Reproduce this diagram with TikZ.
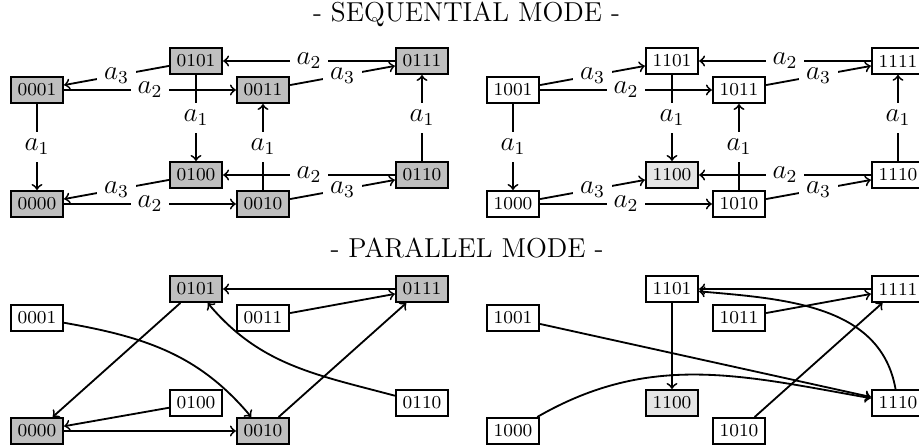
\documentclass[tikz,border=0pt]{standalone}
\begin{document}
\begin{tikzpicture}[x=0.4386pt,y=0.4386pt,>=to,line width=0.8pt,
  st/.style={draw,font=\footnotesize,inner sep=3pt,fill=white},
  g/.style={st,fill=gray!50},
  lg/.style={st,fill=gray!20},
  lab/.style={fill=white,inner sep=3pt,font=\large},
  ttl/.style={font=\large,anchor=base}]
\useasboundingbox (0,0) rectangle (919,447);
% titles
\node[ttl] (t1) at (466.5,425) {- SEQUENTIAL MODE -};
\node[ttl] (t2) at (467,189) {- PARALLEL MODE -};
% ---------- top left ----------
\node[g] (a0001) at (37,357) {0001};
\node[g] (a0011) at (263,357) {0011};
\node[g] (a0000) at (37,243) {0000};
\node[g] (a0010) at (263,243) {0010};
\node[g] (a0101) at (196,386) {0101};
\node[g] (a0111) at (422,386) {0111};
\node[g] (a0100) at (196,272) {0100};
\node[g] (a0110) at (422,272) {0110};
\draw[->] (a0101) -- node[lab]{$a_3$} (a0001);
\draw[->] (a0011) -- node[lab]{$a_3$} (a0111);
\draw[->] (a0100) -- node[lab]{$a_3$} (a0000);
\draw[->] (a0010) -- node[lab]{$a_3$} (a0110);
\draw[->] (a0001) -- node[lab]{$a_1$} (a0000);
\draw[->] (a0101) -- node[lab]{$a_1$} (a0100);
\draw[->] (a0010) -- node[lab]{$a_1$} (a0011);
\draw[->] (a0110) -- node[lab]{$a_1$} (a0111);
\draw[->] (a0111) -- node[lab]{$a_2$} (a0101);
\draw[->] (a0110) -- node[lab]{$a_2$} (a0100);
\draw[->] (a0001) -- node[lab]{$a_2$} (a0011);
\draw[->] (a0000) -- node[lab]{$a_2$} (a0010);
% ---------- top right ----------
\node[st] (b1001) at (513,357) {1001};
\node[st] (b1011) at (739,357) {1011};
\node[st] (b1000) at (513,243) {1000};
\node[st] (b1010) at (739,243) {1010};
\node[st] (b1101) at (672,386) {1101};
\node[st] (b1111) at (898,386) {1111};
\node[lg] (b1100) at (672,272) {1100};
\node[st] (b1110) at (898,272) {1110};
\draw[->] (b1001) -- node[lab]{$a_3$} (b1101);
\draw[->] (b1011) -- node[lab]{$a_3$} (b1111);
\draw[->] (b1000) -- node[lab]{$a_3$} (b1100);
\draw[->] (b1010) -- node[lab]{$a_3$} (b1110);
\draw[->] (b1001) -- node[lab]{$a_1$} (b1000);
\draw[->] (b1101) -- node[lab]{$a_1$} (b1100);
\draw[->] (b1010) -- node[lab]{$a_1$} (b1011);
\draw[->] (b1110) -- node[lab]{$a_1$} (b1111);
\draw[->] (b1111) -- node[lab]{$a_2$} (b1101);
\draw[->] (b1110) -- node[lab]{$a_2$} (b1100);
\draw[->] (b1001) -- node[lab]{$a_2$} (b1011);
\draw[->] (b1000) -- node[lab]{$a_2$} (b1010);
% ---------- bottom left ----------
\node[st] (c0001) at (37,129) {0001};
\node[st] (c0011) at (263,129) {0011};
\node[g] (c0000) at (37,16) {0000};
\node[g] (c0010) at (263,16) {0010};
\node[g] (c0101) at (196,158) {0101};
\node[g] (c0111) at (422,158) {0111};
\node[st] (c0100) at (196,44) {0100};
\node[st] (c0110) at (422,44) {0110};
\draw[->] (c0111) -- (c0101);
\draw[->] (c0011) -- (c0111);
\draw[->] (c0101) -- (c0000);
\draw[->] (c0100) -- (c0000);
\draw[->] (c0000) -- (c0010);
\draw[->] (c0010) -- (c0111);
\draw[->] (c0001) to[out=-10,in=130] (c0010);
\draw[->] (c0110) to[out=165,in=-50] (c0101);
% ---------- bottom right ----------
\node[st] (d1001) at (513,129) {1001};
\node[st] (d1011) at (739,129) {1011};
\node[st] (d1000) at (513,16) {1000};
\node[st] (d1010) at (739,16) {1010};
\node[st] (d1101) at (672,158) {1101};
\node[st] (d1111) at (898,158) {1111};
\node[lg] (d1100) at (672,44) {1100};
\node[st] (d1110) at (898,44) {1110};
\draw[->] (d1111) -- (d1101);
\draw[->] (d1110) to[out=100,in=-5] (d1101);
\draw[->] (d1011) -- (d1111);
\draw[->] (d1101) -- (d1100);
\draw[->] (d1001) -- (d1110);
\draw[->] (d1000) to[out=30,in=170] (d1110);
\draw[->] (d1010) -- (d1111);
\end{tikzpicture}
\end{document}
